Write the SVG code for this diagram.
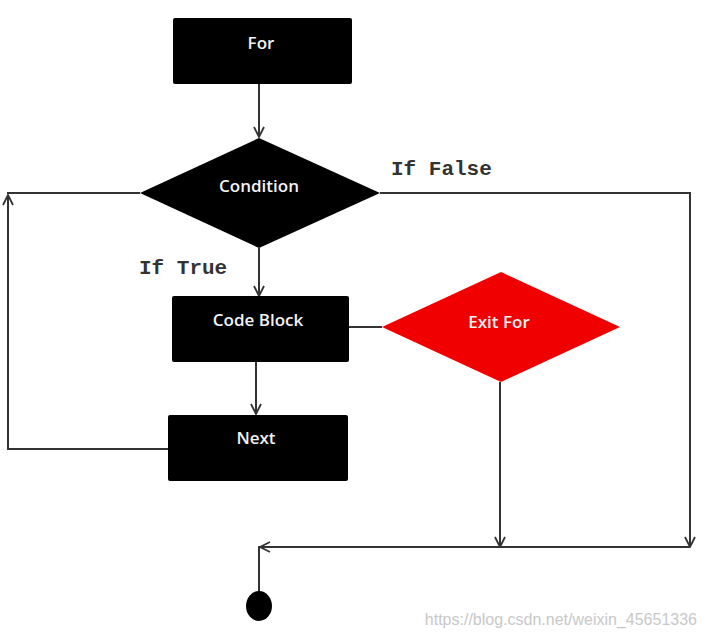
<svg xmlns="http://www.w3.org/2000/svg" width="707" height="637" viewBox="0 0 707 637">
<style>
.box{fill:#000;}
.lbl{font-family:"Open Sans","Noto Sans",sans-serif;font-size:17px;font-weight:600;fill:#f2f2f2;text-anchor:middle;}
.cond{font-family:"Liberation Mono",monospace;font-size:21px;font-weight:bold;fill:#333;}
.ln{fill:none;stroke:#333;stroke-width:2;}
.wm{font-family:"Liberation Sans",Arial,sans-serif;font-size:16px;fill:#c8c8c8;}
</style>
<defs>
<marker id="ah" viewBox="0 0 12 12" refX="11" refY="6" markerWidth="12" markerHeight="12" markerUnits="userSpaceOnUse" orient="auto">
<path d="M1,1 L11,6 L1,11" fill="none" stroke="#333" stroke-width="1.8"/>
</marker>
</defs>
<g id="connectors">
<line class="ln" x1="259" y1="84" x2="259" y2="137" marker-end="url(#ah)"/>
<line class="ln" x1="259" y1="248" x2="259" y2="296" marker-end="url(#ah)"/>
<line class="ln" x1="256" y1="362" x2="256" y2="414" marker-end="url(#ah)"/>
<line class="ln" x1="349" y1="327" x2="382" y2="327"/>
<path class="ln" d="M168,449 H8 V195" marker-end="url(#ah)"/>
<line class="ln" x1="7" y1="193" x2="140" y2="193"/>
<path class="ln" d="M380,193 H690 V547" marker-end="url(#ah)"/>
<line class="ln" x1="500" y1="382" x2="500" y2="547" marker-end="url(#ah)"/>
<line class="ln" x1="690" y1="547" x2="260" y2="547" marker-end="url(#ah)"/>
<line class="ln" x1="259" y1="546" x2="259" y2="592"/>
</g>
<g id="for">
<rect class="box" x="173" y="18" width="179" height="66" rx="2"/>
<text class="lbl" x="261" y="49">For</text>
</g>
<g id="condition">
<polygon class="box" points="259,138 380,193 259,248 140,193"/>
<text class="lbl" x="259" y="192">Condition</text>
</g>
<g id="code-block">
<rect class="box" x="172" y="296" width="177" height="66" rx="2"/>
<text class="lbl" x="258" y="326">Code Block</text>
</g>
<g id="exit-for">
<polygon points="501,272 620,327 501,382 382,327" fill="#f00000"/>
<text class="lbl" x="499" y="328">Exit For</text>
</g>
<g id="next">
<rect class="box" x="168" y="415" width="180" height="66" rx="2"/>
<text class="lbl" x="256" y="444">Next</text>
</g>
<g id="end">
<ellipse cx="259" cy="606" rx="13" ry="15" fill="#000"/>
</g>
<g id="labels">
<text class="cond" x="139" y="274">If True</text>
<text class="cond" x="391" y="175">If False</text>
</g>
<text class="wm" x="697" y="625" text-anchor="end">https://blog.csdn.net/weixin_45651336</text>
</svg>
